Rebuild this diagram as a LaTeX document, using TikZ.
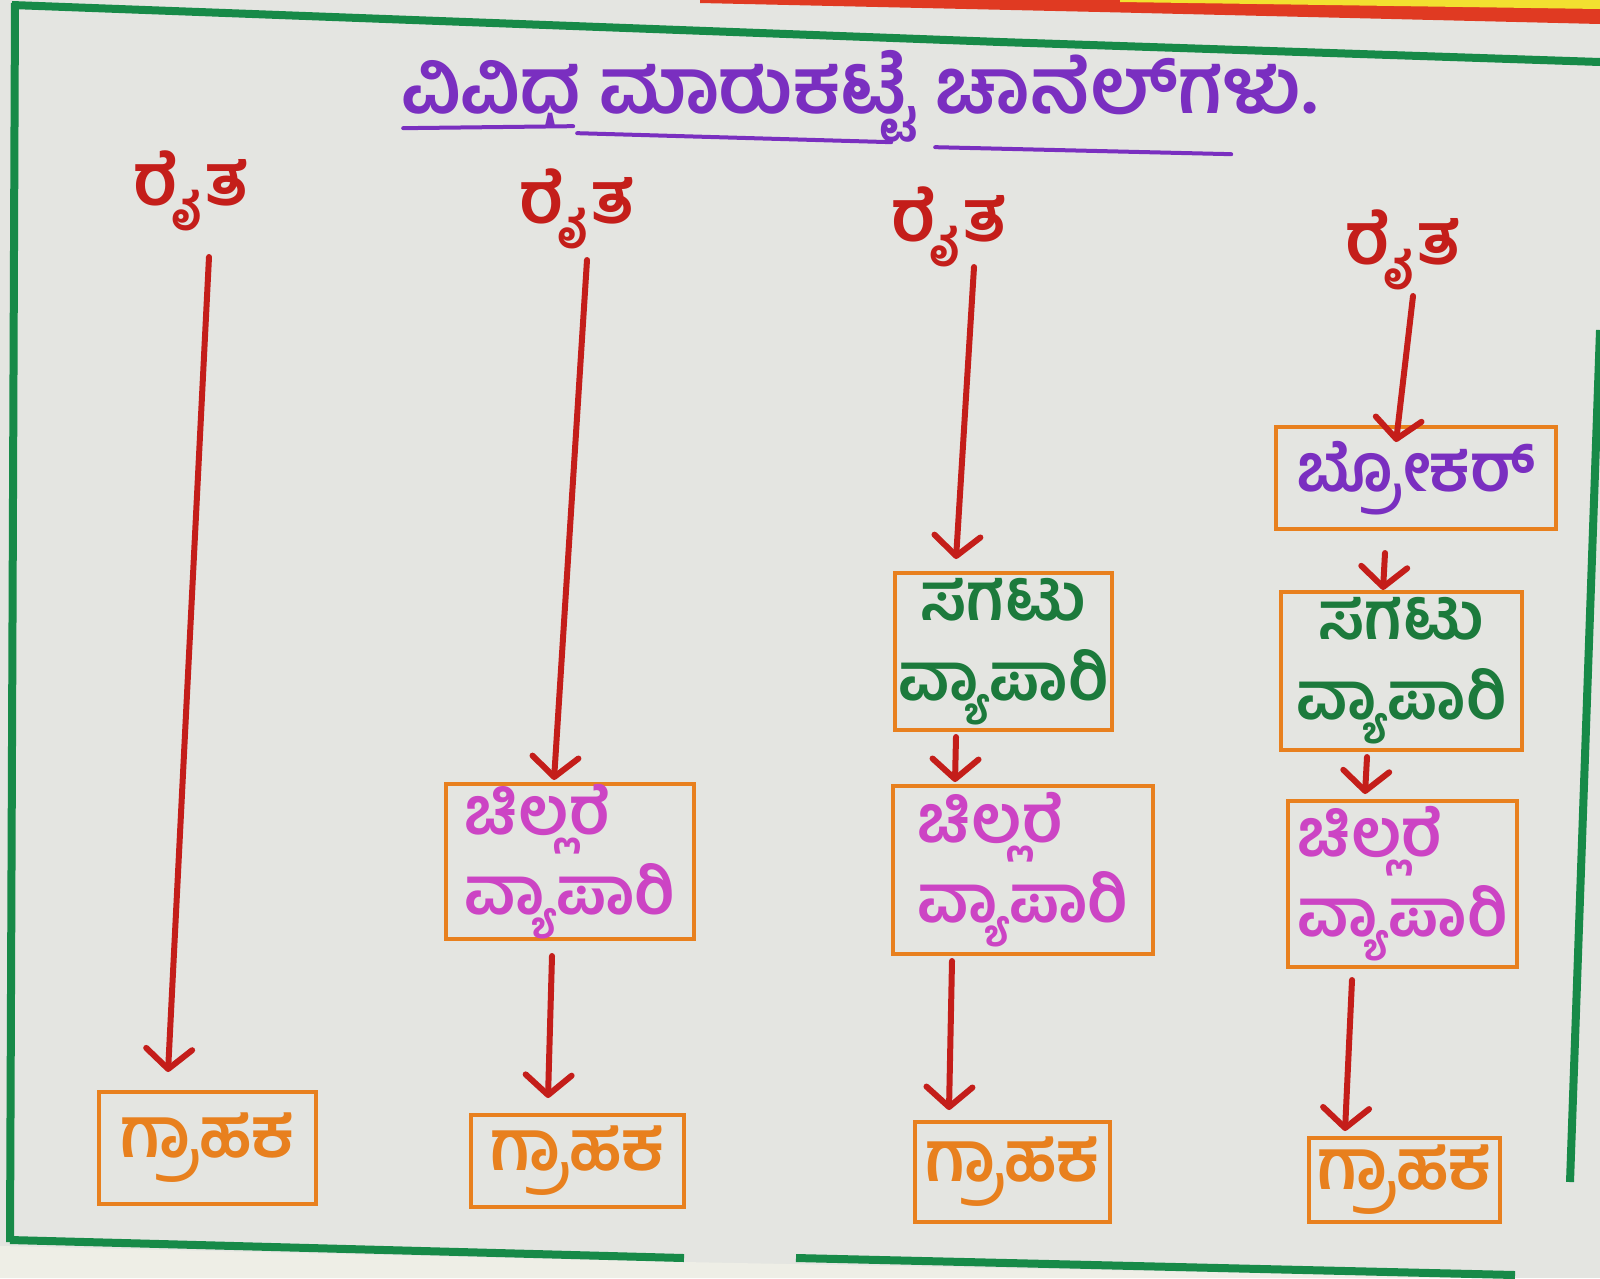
\documentclass[tikz,border=0pt]{standalone}
\usepackage{fontspec}
\newfontfamily\kn[Script=Kannada]{Hind Mysuru}
\usetikzlibrary{arrows.meta,calc}
\definecolor{cbg}{HTML}{E4E5E1}
\definecolor{cstrip}{HTML}{EEEEE6}
\definecolor{cgreenb}{HTML}{178A48}
\definecolor{cred}{HTML}{C41E1A}
\definecolor{cpurple}{HTML}{7A2FC0}
\definecolor{cgreent}{HTML}{1C7A3C}
\definecolor{cmag}{HTML}{CC44C4}
\definecolor{corange}{HTML}{E8801E}
\definecolor{cyel}{HTML}{F2E030}
\definecolor{credb}{HTML}{E03A22}
\begin{document}
\begin{tikzpicture}[x=1pt,y=-1pt,
  farmer/.style={text=cred, inner sep=0pt, font={\kn\bfseries\fontsize{72}{80}\selectfont}},
  box/.style={draw=corange, line width=4pt, inner sep=0pt, align=center},
  retail/.style={box, align=left, text=cmag, font={\kn\bfseries\fontsize{66}{80}\selectfont}},
  whole/.style={box, text=cgreent, font={\kn\bfseries\fontsize{66}{80}\selectfont}},
  cust/.style={box, text=corange, font={\kn\bfseries\fontsize{70}{76}\selectfont}},
  broker/.style={box, text=cpurple, font={\kn\bfseries\fontsize{66}{74}\selectfont}},
  flow/.style={draw=cred, line width=6pt, line cap=round, line join=round,
    -{Straight Barb[length=20pt,width=46pt,round]}},
  border/.style={draw=cgreenb, line width=8pt},
  uline/.style={draw=cpurple, line width=4pt, line cap=round}
]
\useasboundingbox (0,0) rectangle (1600,1278);
\fill[cbg] (0,0) rectangle (1600,1278);
% surroundings
\fill[cstrip] (0,1246) -- (684,1262) -- (1515,1278) -- (0,1278) -- cycle;
\fill[credb] (700,0) -- (1600,0) -- (1600,24) -- (1100,12) -- (700,3) -- cycle;
\fill[cyel] (1120,0) -- (1600,0) -- (1600,9) -- (1120,2) -- cycle;
% green frame
\draw[border] (12,5) -- (1000,42) -- (1600,62);
\draw[border] (15,3) -- (10,1242);
\draw[border] (10,1240) -- (684,1258);
\draw[border] (796,1258) -- (1515,1275);
\draw[border] (1600,330) -- (1570,1182);

% title
\node[text=cpurple, inner sep=0pt, font={\kn\bfseries\fontsize{77}{84}\selectfont}] (title) at (860,96) {ವಿವಿಧ ಮಾರುಕಟ್ಟೆ ಚಾನೆಲ್‌ಗಳು.};
\draw[uline] ($(title.south west)+(2,-14)$) -- ($(title.south west)+(172,-16)$);
\draw[uline] ($(title.south west)+(176,-9)$) -- ($(title.south west)+(490,0)$);
\draw[uline] ($(title.south west)+(534,5)$) -- ($(title.south west)+(830,12)$);

% column 1
\node[farmer] (rt1) at (191,191) {ರೈತ};
\node[cust, minimum width=217pt, minimum height=112pt] (gr1) at (207.5,1148) {ಗ್ರಾಹಕ};
\draw[flow] ($(rt1)+(18,66)$) -- ($(gr1.north)+(-39.5,-18)$);

% column 2
\node[farmer] (rt2) at (577,209) {ರೈತ};
\node[retail, minimum width=248pt, minimum height=155pt] (cl2) at (570,861.5) {ಚಿಲ್ಲರೆ\\ವ್ಯಾಪಾರಿ};
\node[cust, minimum width=213pt, minimum height=92pt] (gr2) at (577.5,1161) {ಗ್ರಾಹಕ};
\draw[flow] ($(rt2)+(10,51)$) -- ($(cl2.north)+(-16,-2)$);
\draw[flow] ($(cl2.south)+(-18,15)$) -- ($(gr2.north)+(-29.5,-15)$);

% column 3
\node[farmer] (rt3) at (949,227) {ರೈತ};
\node[whole, minimum width=217pt, minimum height=157pt] (sg3) at (1003.5,651.5) {ಸಗಟು\\ವ್ಯಾಪಾರಿ};
\node[retail, minimum width=260pt, minimum height=168pt] (cl3) at (1023,870) {ಚಿಲ್ಲರೆ\\ವ್ಯಾಪಾರಿ};
\node[cust, minimum width=195pt, minimum height=100pt] (gr3) at (1012.5,1172) {ಗ್ರಾಹಕ};
\draw[flow] ($(rt3)+(25,40)$) -- ($(sg3.north)+(-47.5,-12)$);
\draw[flow] ($(sg3.south)+(-47.5,5)$) -- ($(cl3.north)+(-68,-2)$);
\draw[flow] ($(cl3.south)+(-71,5)$) -- ($(gr3.north)+(-63.5,-10)$);

% column 4
\node[farmer] (rt4) at (1403,250) {ರೈತ};
\node[broker, minimum width=280pt, minimum height=102pt] (br4) at (1416,478) {ಬ್ರೋಕರ್};
\node[whole, minimum width=241pt, minimum height=158pt] (sg4) at (1401.5,671) {ಸಗಟು\\ವ್ಯಾಪಾರಿ};
\node[retail, minimum width=229pt, minimum height=166pt] (cl4) at (1402.5,884) {ಚಿಲ್ಲರೆ\\ವ್ಯಾಪಾರಿ};
\node[cust, minimum width=191pt, minimum height=84pt] (gr4) at (1404.5,1180) {ಗ್ರಾಹಕ};
\draw[flow] ($(rt4)+(10,46)$) -- ($(br4.north)+(-20,17)$);
\draw[flow] ($(br4.south)+(-31,22)$) -- ($(sg4.north)+(-18.5,0)$);
\draw[flow] ($(sg4.south)+(-34.5,5)$) -- ($(cl4.north)+(-37.5,-5)$);
\draw[flow] ($(cl4.south)+(-50.5,11)$) -- ($(gr4.north)+(-59.5,-5)$);
\end{tikzpicture}
\end{document}
